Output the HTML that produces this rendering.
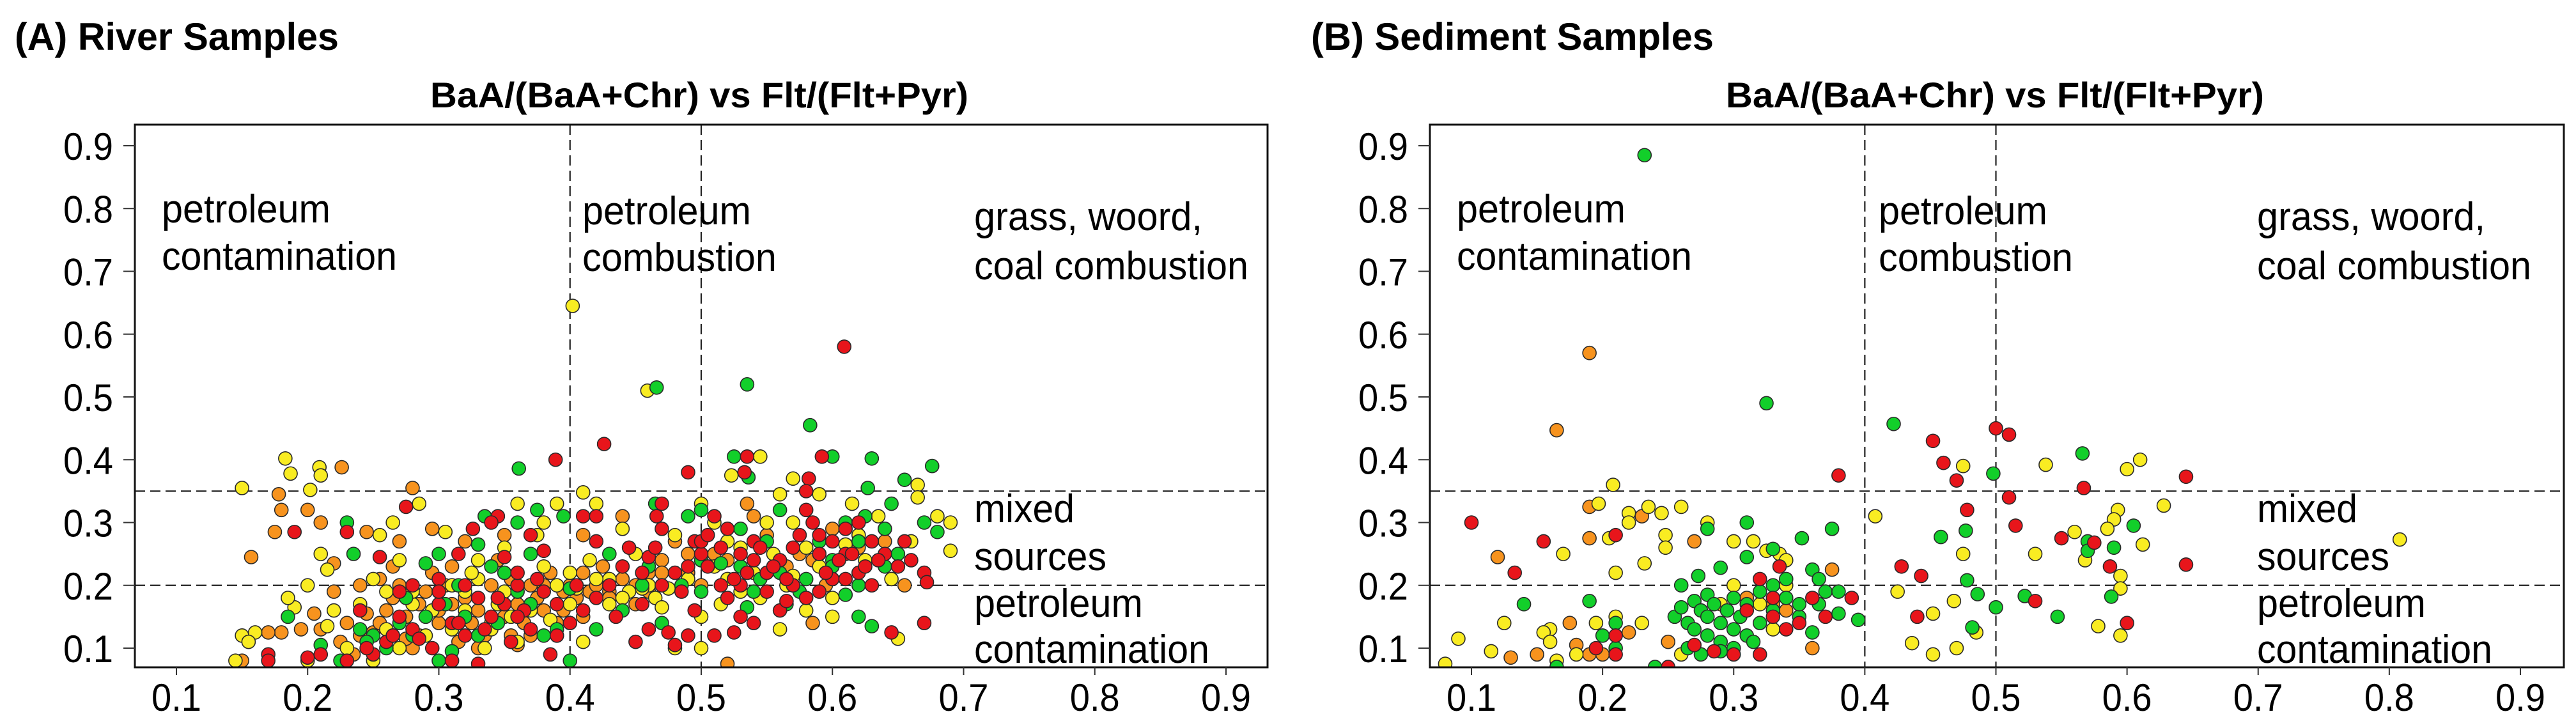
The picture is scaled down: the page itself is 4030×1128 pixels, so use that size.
<!DOCTYPE html>
<html><head><meta charset="utf-8"><style>
html,body{margin:0;padding:0;background:#fff;}
svg{display:block;}
text{font-family:"Liberation Sans",sans-serif;fill:#000;}
</style></head><body>
<svg id="chart" width="4030" height="1128" viewBox="0 0 4030 1128" xmlns="http://www.w3.org/2000/svg"></svg>
<script>
// ---------- Data: River samples (A) ----------
const riverRedX=[0.389,0.426,0.49,0.535,0.592,0.609,0.533,0.582,0.58,0.275,0.23,0.19,0.255,0.326,0.345,0.34,0.37,0.38,0.41,0.42,0.466,0.47,0.47,0.495,0.51,0.52,0.515,0.53,0.54,0.54,0.55,0.56,0.57,0.58,0.585,0.59,0.6,0.61,0.62,0.63,0.64,0.65,0.66,0.67,0.672,0.67,0.645,0.62,0.6,0.59,0.58,0.56,0.54,0.53,0.525,0.51,0.49,0.475,0.46,0.45,0.47,0.48,0.49,0.5,0.505,0.515,0.52,0.53,0.55,0.565,0.57,0.44,0.43,0.42,0.41,0.4,0.39,0.38,0.37,0.36,0.35,0.34,0.33,0.32,0.31,0.3,0.295,0.28,0.27,0.26,0.25,0.24,0.23,0.21,0.2,0.17,0.17,0.3,0.32,0.315,0.385,0.48,0.33,0.36,0.42,0.46,0.61,0.625,0.63,0.35,0.355,0.365,0.445,0.455,0.5,0.525,0.555,0.59,0.605,0.61,0.27,0.285,0.31,0.3,0.315,0.335,0.345,0.36,0.375,0.39,0.405,0.435,0.455,0.465,0.485,0.495,0.505,0.535,0.545,0.565,0.575,0.595,0.615,0.635,0.655,0.28,0.265,0.245];
const riverRedY=[0.40,0.425,0.38,0.405,0.405,0.58,0.38,0.37,0.35,0.325,0.285,0.285,0.245,0.29,0.31,0.3,0.28,0.255,0.31,0.31,0.31,0.33,0.29,0.27,0.31,0.29,0.26,0.25,0.27,0.24,0.22,0.24,0.26,0.32,0.3,0.28,0.27,0.29,0.3,0.27,0.25,0.23,0.24,0.22,0.205,0.14,0.125,0.22,0.21,0.19,0.18,0.16,0.14,0.15,0.125,0.12,0.12,0.125,0.13,0.11,0.2,0.22,0.23,0.25,0.23,0.2,0.18,0.2,0.19,0.175,0.2,0.23,0.2,0.18,0.16,0.14,0.17,0.19,0.13,0.2,0.17,0.15,0.18,0.12,0.14,0.17,0.1,0.13,0.15,0.11,0.09,0.16,0.08,0.09,0.085,0.09,0.08,0.21,0.2,0.25,0.09,0.105,0.075,0.22,0.27,0.245,0.25,0.23,0.2,0.245,0.11,0.16,0.26,0.22,0.27,0.21,0.23,0.25,0.24,0.21,0.19,0.115,0.08,0.19,0.14,0.13,0.18,0.15,0.21,0.12,0.2,0.15,0.17,0.26,0.19,0.16,0.28,0.22,0.26,0.21,0.28,0.22,0.25,0.24,0.27,0.2,0.12,0.1];
const riverGreenX=[0.466,0.535,0.583,0.361,0.525,0.6,0.63,0.676,0.536,0.655,0.627,0.23,0.235,0.29,0.3,0.33,0.335,0.36,0.375,0.395,0.465,0.49,0.5,0.56,0.59,0.61,0.625,0.645,0.67,0.68,0.65,0.64,0.62,0.62,0.63,0.61,0.55,0.545,0.53,0.57,0.5,0.47,0.485,0.455,0.44,0.42,0.4,0.4,0.38,0.37,0.36,0.35,0.345,0.33,0.31,0.3,0.29,0.28,0.27,0.26,0.25,0.225,0.185,0.21,0.315,0.535,0.58,0.6,0.53,0.515,0.56,0.575,0.6,0.24,0.265,0.275,0.32,0.34,0.37,0.39,0.43,0.46,0.5,0.54,0.565,0.59,0.62,0.64,0.245,0.305];
const riverGreenY=[0.515,0.52,0.455,0.386,0.405,0.405,0.402,0.39,0.372,0.368,0.355,0.3,0.25,0.235,0.25,0.265,0.31,0.3,0.32,0.31,0.33,0.31,0.32,0.32,0.27,0.3,0.31,0.33,0.3,0.285,0.25,0.23,0.2,0.15,0.135,0.185,0.27,0.21,0.23,0.2,0.19,0.14,0.2,0.2,0.16,0.13,0.08,0.195,0.12,0.25,0.19,0.22,0.14,0.12,0.095,0.08,0.15,0.12,0.14,0.1,0.12,0.08,0.15,0.105,0.2,0.165,0.21,0.24,0.29,0.235,0.22,0.19,0.23,0.13,0.12,0.18,0.15,0.23,0.17,0.13,0.25,0.23,0.24,0.19,0.17,0.25,0.27,0.29,0.11,0.17];
const riverYellowX=[0.402,0.459,0.545,0.183,0.187,0.209,0.21,0.15,0.202,0.41,0.523,0.57,0.665,0.56,0.59,0.285,0.21,0.215,0.2,0.19,0.16,0.15,0.155,0.145,0.2,0.215,0.24,0.25,0.26,0.255,0.265,0.31,0.32,0.33,0.35,0.36,0.375,0.38,0.39,0.42,0.44,0.45,0.43,0.445,0.46,0.465,0.48,0.5,0.51,0.52,0.53,0.51,0.55,0.555,0.57,0.59,0.6,0.61,0.615,0.635,0.645,0.66,0.665,0.68,0.69,0.69,0.65,0.6,0.56,0.545,0.5,0.5,0.48,0.47,0.41,0.4,0.39,0.37,0.36,0.35,0.34,0.33,0.32,0.3,0.29,0.28,0.27,0.26,0.25,0.23,0.305,0.42,0.43,0.52,0.54,0.455,0.475,0.405,0.385,0.335,0.31,0.57,0.58,0.62,0.27,0.28,0.295,0.31,0.325,0.345,0.355,0.38,0.4,0.415,0.44,0.47,0.49,0.515,0.53,0.565,0.58,0.6,0.625,0.64,0.22,0.185];
const riverYellowY=[0.645,0.51,0.405,0.402,0.378,0.388,0.375,0.355,0.352,0.348,0.375,0.37,0.36,0.345,0.345,0.33,0.25,0.225,0.2,0.165,0.125,0.12,0.11,0.08,0.08,0.135,0.17,0.21,0.19,0.28,0.3,0.2,0.19,0.24,0.26,0.33,0.28,0.3,0.33,0.33,0.29,0.25,0.21,0.19,0.2,0.18,0.28,0.33,0.3,0.27,0.26,0.23,0.3,0.25,0.3,0.23,0.18,0.265,0.33,0.31,0.21,0.27,0.34,0.31,0.255,0.3,0.115,0.15,0.13,0.18,0.15,0.1,0.1,0.165,0.11,0.17,0.2,0.16,0.11,0.19,0.13,0.21,0.16,0.19,0.12,0.17,0.1,0.13,0.08,0.1,0.285,0.21,0.17,0.21,0.22,0.195,0.195,0.195,0.145,0.1,0.08,0.215,0.26,0.28,0.24,0.19,0.16,0.13,0.22,0.17,0.15,0.23,0.22,0.24,0.18,0.2,0.21,0.17,0.19,0.2,0.16,0.21,0.24,0.29,0.16,0.18];
const riverOrangeX=[0.226,0.28,0.178,0.18,0.2,0.21,0.175,0.157,0.22,0.245,0.27,0.295,0.22,0.205,0.18,0.17,0.195,0.15,0.225,0.24,0.245,0.255,0.265,0.27,0.285,0.29,0.3,0.31,0.31,0.32,0.325,0.33,0.34,0.345,0.35,0.355,0.36,0.365,0.37,0.375,0.38,0.385,0.39,0.395,0.4,0.405,0.41,0.415,0.42,0.425,0.43,0.44,0.45,0.46,0.47,0.48,0.49,0.5,0.52,0.535,0.54,0.55,0.565,0.575,0.585,0.6,0.62,0.64,0.655,0.585,0.595,0.52,0.47,0.37,0.33,0.28,0.26,0.35,0.44,0.41,0.275,0.3,0.315,0.335,0.36,0.39,0.21,0.235,0.25,0.255,0.265,0.275,0.285,0.295,0.305,0.32,0.34,0.355,0.37,0.38,0.395,0.41,0.43,0.45,0.46,0.49,0.51,0.23,0.24];
const riverOrangeY=[0.388,0.355,0.345,0.32,0.32,0.3,0.285,0.245,0.235,0.285,0.27,0.29,0.19,0.155,0.125,0.125,0.13,0.08,0.11,0.12,0.155,0.21,0.18,0.2,0.17,0.19,0.14,0.17,0.23,0.27,0.14,0.16,0.2,0.24,0.15,0.21,0.17,0.14,0.2,0.18,0.16,0.22,0.14,0.19,0.2,0.18,0.22,0.19,0.2,0.23,0.19,0.21,0.2,0.22,0.24,0.27,0.25,0.2,0.24,0.33,0.31,0.28,0.23,0.25,0.24,0.29,0.26,0.27,0.2,0.14,0.2,0.075,0.22,0.12,0.1,0.1,0.16,0.28,0.31,0.28,0.115,0.16,0.11,0.12,0.105,0.12,0.13,0.09,0.125,0.14,0.23,0.15,0.12,0.22,0.2,0.18,0.14,0.12,0.17,0.2,0.16,0.15,0.18,0.17,0.19,0.22,0.25,0.14,0.2];

// ---------- Data: Sediment samples (B) ----------
const sedGreenX=[0.232,0.325,0.422,0.566,0.498,0.14,0.19,0.2,0.21,0.165,0.21,0.28,0.31,0.375,0.352,0.33,0.31,0.29,0.273,0.26,0.36,0.34,0.365,0.37,0.38,0.365,0.35,0.38,0.395,0.36,0.255,0.26,0.265,0.27,0.27,0.275,0.28,0.28,0.28,0.285,0.29,0.29,0.295,0.3,0.3,0.305,0.31,0.31,0.32,0.32,0.33,0.34,0.265,0.275,0.29,0.3,0.315,0.33,0.458,0.477,0.478,0.486,0.482,0.5,0.522,0.547,0.57,0.57,0.59,0.605,0.588,0.35,0.24];
const sedGreenY=[0.885,0.49,0.457,0.41,0.378,0.17,0.175,0.12,0.1,0.07,0.14,0.29,0.3,0.29,0.275,0.258,0.245,0.228,0.215,0.2,0.225,0.21,0.21,0.19,0.19,0.17,0.15,0.155,0.145,0.125,0.15,0.165,0.14,0.175,0.13,0.16,0.185,0.15,0.12,0.17,0.14,0.11,0.16,0.18,0.13,0.15,0.12,0.17,0.14,0.19,0.16,0.18,0.1,0.09,0.095,0.1,0.11,0.2,0.277,0.287,0.208,0.186,0.133,0.165,0.183,0.15,0.27,0.255,0.26,0.295,0.182,0.17,0.07];
const sedRedX=[0.1,0.155,0.133,0.21,0.21,0.21,0.38,0.452,0.46,0.47,0.5,0.51,0.478,0.51,0.515,0.567,0.55,0.575,0.587,0.645,0.645,0.6,0.53,0.428,0.443,0.44,0.32,0.33,0.335,0.33,0.34,0.35,0.36,0.37,0.39,0.31,0.3,0.27,0.285,0.32,0.195,0.25];
const sedRedY=[0.3,0.27,0.22,0.28,0.12,0.09,0.375,0.43,0.395,0.367,0.45,0.44,0.32,0.34,0.295,0.355,0.275,0.268,0.23,0.373,0.233,0.14,0.175,0.23,0.215,0.15,0.21,0.18,0.23,0.15,0.13,0.14,0.18,0.15,0.18,0.16,0.09,0.105,0.095,0.09,0.1,0.07];
const sedYellowX=[0.208,0.197,0.22,0.22,0.235,0.245,0.26,0.28,0.248,0.248,0.205,0.17,0.21,0.232,0.195,0.21,0.125,0.09,0.115,0.08,0.16,0.155,0.16,0.165,0.18,0.23,0.3,0.315,0.325,0.335,0.34,0.34,0.3,0.32,0.33,0.26,0.29,0.408,0.475,0.538,0.6,0.61,0.628,0.593,0.59,0.585,0.56,0.612,0.53,0.475,0.595,0.595,0.425,0.468,0.452,0.485,0.436,0.47,0.452,0.578,0.595,0.808,0.568];
const sedYellowY=[0.36,0.33,0.315,0.3,0.325,0.315,0.325,0.3,0.28,0.26,0.275,0.25,0.22,0.235,0.14,0.15,0.14,0.115,0.095,0.075,0.13,0.125,0.11,0.08,0.09,0.14,0.27,0.27,0.255,0.25,0.24,0.2,0.2,0.17,0.13,0.09,0.17,0.31,0.39,0.392,0.385,0.4,0.327,0.32,0.305,0.29,0.285,0.265,0.25,0.25,0.215,0.195,0.19,0.175,0.155,0.125,0.108,0.1,0.09,0.135,0.12,0.273,0.24];
const sedOrangeX=[0.19,0.165,0.19,0.19,0.12,0.23,0.27,0.375,0.175,0.18,0.19,0.2,0.22,0.25,0.15,0.13,0.34,0.36,0.33,0.31];
const sedOrangeY=[0.57,0.447,0.325,0.275,0.245,0.31,0.27,0.225,0.14,0.105,0.09,0.09,0.125,0.11,0.09,0.085,0.16,0.1,0.17,0.18];

const tickValues=[0.1,0.2,0.3,0.4,0.5,0.6,0.7,0.8,0.9];
const tickLabels=["0.1","0.2","0.3","0.4","0.5","0.6","0.7","0.8","0.9"];
const vLines=[0.4,0.5];
const hLines=[0.35,0.2];

const COLORS={red:"#e8151b",green:"#12cf2a",yellow:"#f9ec22",orange:"#f7931e"};
const NS="http://www.w3.org/2000/svg";
const svg=document.getElementById('chart');

function mk(tag,attrs,parent){const e=document.createElementNS(NS,tag);for(const k in attrs)e.setAttribute(k,attrs[k]);(parent||svg).appendChild(e);return e;}
function txt(str,x,y,size,opts,parent){
  opts=opts||{};
  const e=mk('text',{x:x,y:y,'font-size':size},parent);
  if(opts.bold)e.setAttribute('font-weight','bold');
  if(opts.anchor)e.setAttribute('text-anchor',opts.anchor);
  if(opts.len){e.setAttribute('textLength',opts.len);e.setAttribute('lengthAdjust','spacingAndGlyphs');}
  e.textContent=str;return e;
}

function panel(cfg){
  const g=mk('g',{});
  
  
  const xS=v=>cfg.x01+(v-0.1)*(cfg.x09-cfg.x01)/0.8;
  const yS=v=>1014-(v-0.1)*(1014-228)/0.8;
  const L=cfg.left,R=cfg.right,T=195,B=1044;

  const pt=txt(cfg.panelTitle,cfg.ptX,78,60,{bold:true,len:cfg.ptW},g);
  
  
  const ct=txt("BaA/(BaA+Chr) vs Flt/(Flt+Pyr)",cfg.ctX,168,56,{bold:true,len:842},g);
  
  

  const clipId='clip-'+cfg.name;
  const cp=mk('clipPath',{id:clipId},g);
  mk('rect',{x:L,y:T,width:R-L,height:B-T},cp);

  vLines.forEach(v=>{
    const l=mk('line',{x1:xS(v),x2:xS(v),y1:T,y2:B,stroke:'#222','stroke-width':2.2,'stroke-dasharray':'16 8'},g);
    
    
  });
  hLines.forEach(v=>{
    const l=mk('line',{x1:L,x2:R,y1:yS(v),y2:yS(v),stroke:'#222','stroke-width':2.2,'stroke-dasharray':'16 8'},g);
    
    
  });

  const pg=mk('g',{'clip-path':'url(#'+clipId+')'},g);
  
  
  cfg.series.forEach(s=>{
    for(let i=0;i<s.x.length;i++){
      const c=mk('circle',{cx:xS(s.x[i]),cy:yS(s.y[i]),r:10.5,fill:COLORS[s.c],stroke:'#2a2a2a','stroke-width':1.6},pg);
      
      
    }
  });

  const box=mk('rect',{x:L,y:T,width:R-L,height:B-T,fill:'none',stroke:'#111','stroke-width':3},g);
  
  

  tickValues.forEach((v,i)=>{
    mk('line',{x1:xS(v),x2:xS(v),y1:B,y2:B+12,stroke:'#333','stroke-width':2},g);
    const xl=txt(tickLabels[i],xS(v),1112,60,{anchor:'middle',len:78},g);
    
    
    mk('line',{x1:L-18,x2:L,y1:yS(v),y2:yS(v),stroke:'#333','stroke-width':2},g);
    const yl=txt(tickLabels[i],L-34,yS(v)+22,60,{anchor:'end',len:78},g);
    
    
  });

  const ann=[
    ["petroleum",cfg.a1,348,264],["contamination",cfg.a1,422,368],
    ["petroleum",cfg.a2,351,264],["combustion",cfg.a2,424,304],
    ["grass, woord,",cfg.a3,360,357],["coal combustion",cfg.a3,437,429],
    ["mixed",cfg.a3,817,157],["sources",cfg.a3,892,207],
    ["petroleum",cfg.a3,965,264],["contamination",cfg.a3,1037,368]
  ];
  ann.forEach(a=>{
    const t=txt(a[0],a[1],a[2],62,{len:a[3]},g);
    
    
  });
}

panel({name:'panel-a-river',panelTitle:'(A) River Samples',ptX:23,ptW:507,ctX:673,
  left:211,right:1983,x01:276,x09:1918,a1:253,a2:911,a3:1524,
  series:[{x:riverOrangeX,y:riverOrangeY,c:'orange'},{x:riverYellowX,y:riverYellowY,c:'yellow'},{x:riverGreenX,y:riverGreenY,c:'green'},{x:riverRedX,y:riverRedY,c:'red'}]});
panel({name:'panel-b-sediment',panelTitle:'(B) Sediment Samples',ptX:2051,ptW:630,ctX:2700,
  left:2237,right:4011,x01:2302,x09:3943,a1:2279,a2:2939,a3:3531,
  series:[{x:sedOrangeX,y:sedOrangeY,c:'orange'},{x:sedYellowX,y:sedYellowY,c:'yellow'},{x:sedGreenX,y:sedGreenY,c:'green'},{x:sedRedX,y:sedRedY,c:'red'}]});
</script>
</body></html>
